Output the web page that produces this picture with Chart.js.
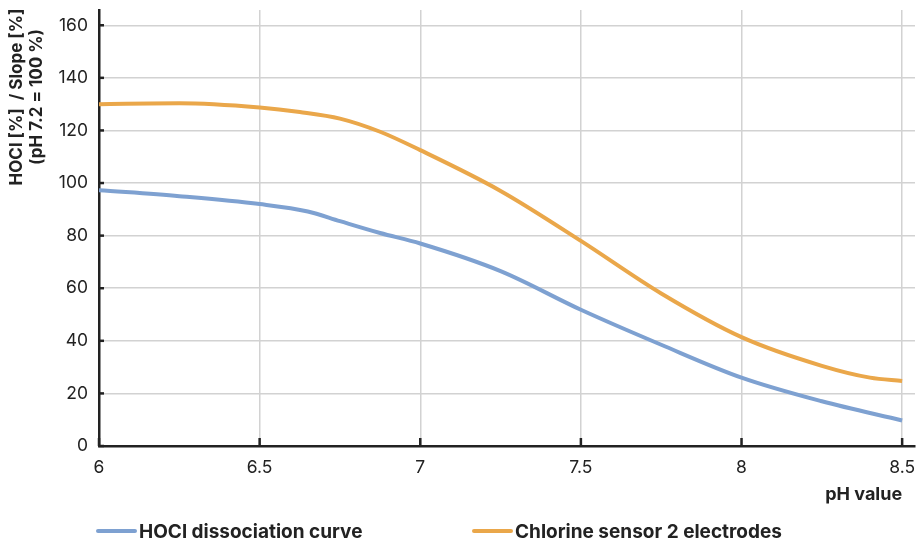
<!DOCTYPE html>
<html>
<head>
<meta charset="utf-8">
<script src="https://cdn.jsdelivr.net/npm/chart.js@4.4.1/dist/chart.umd.min.js"></script>
<style>
html,body{margin:0;padding:0;background:#fff;}
#wrap{width:917px;height:547px;position:relative;}
</style>
</head>
<body>
<div id="wrap"><canvas id="c" width="917" height="547"></canvas></div>
<script>
// ---- data ----
const phHocl   = [6, 6.25, 6.5, 6.65, 6.75, 6.875, 7, 7.25, 7.5, 7.75, 8, 8.25, 8.5];
const hoclVals = [97.3, 95, 92, 89.2, 85.5, 81, 77, 66.5, 51.8, 38.5, 26, 17, 9.7];
const phSensor   = [6, 6.25, 6.5, 6.625, 6.75, 6.875, 7, 7.25, 7.5, 7.75, 8, 8.25, 8.4, 8.5];
const sensorVals = [130, 130.3, 128.7, 127, 124.5, 119.5, 112.5, 97, 78, 58, 41.4, 30.5, 26, 24.7];
const xTicks = [6, 6.5, 7, 7.5, 8, 8.5];
const yTicks = [0, 20, 40, 60, 80, 100, 120, 140, 160];
const seriesLabels = ['HOCl dissociation curve', 'Chlorine sensor 2 electrodes'];
const yTitle = ['HOCl [%]  / Slope [%]', '(pH 7.2 = 100 %)'];
const xTitle = 'pH value';

const BLUE = '#7EA1D1', ORANGE = '#EAA74A', DARK = '#222222', GRID = '#d2d2d2';
const FONT = 'Inter, "Liberation Sans", Arial, sans-serif';

const pts = (xs, ys) => xs.map((x, i) => ({x, y: ys[i]}));

const extras = {
  id: 'extras',
  afterDraw(chart) {
    const ctx = chart.ctx, xs = chart.scales.x, ys = chart.scales.y, ca = chart.chartArea;
    ctx.save();
    // inner tick marks
    ctx.strokeStyle = DARK; ctx.lineWidth = 2.5;
    xTicks.forEach(v => { const px = xs.getPixelForValue(v); ctx.beginPath(); ctx.moveTo(px, ca.bottom); ctx.lineTo(px, ca.bottom - 8); ctx.stroke(); });
    yTicks.forEach(v => { const py = ys.getPixelForValue(v); ctx.beginPath(); ctx.moveTo(ca.left, py); ctx.lineTo(ca.left + 5, py); ctx.stroke(); });
    // y title
    ctx.fillStyle = DARK;
    ctx.font = 'bold 17px ' + FONT;
    ctx.textAlign = 'center'; ctx.textBaseline = 'middle';
    ctx.save(); ctx.translate(17, 97); ctx.rotate(-Math.PI / 2); ctx.fillText(yTitle[0], 0, 0); ctx.restore();
    ctx.save(); ctx.translate(37, 97); ctx.rotate(-Math.PI / 2); ctx.fillText(yTitle[1], 0, 0); ctx.restore();
    // x title
    ctx.font = 'bold 18px ' + FONT;
    ctx.textAlign = 'right';
    ctx.fillText(xTitle, xs.getPixelForValue(8.5), 495);
    // legend
    const lx = [96, 472], cols = [BLUE, ORANGE];
    ctx.font = 'bold 19px ' + FONT;
    ctx.lineCap = 'round'; ctx.lineWidth = 4;
    for (let i = 0; i < 2; i++) {
      ctx.strokeStyle = cols[i];
      ctx.beginPath(); ctx.moveTo(lx[i] + 2, 531); ctx.lineTo(lx[i] + 39, 531); ctx.stroke();
      ctx.textAlign = 'left';
      ctx.fillText(seriesLabels[i], lx[i] + 43, 532);
    }
    ctx.restore();
  }
};

new Chart(document.getElementById('c'), {
  type: 'line',
  data: {
    datasets: [
      {label: seriesLabels[0], data: pts(phHocl, hoclVals), borderColor: BLUE, borderWidth: 4, pointRadius: 0, cubicInterpolationMode: 'monotone', fill: false},
      {label: seriesLabels[1], data: pts(phSensor, sensorVals), borderColor: ORANGE, borderWidth: 4, pointRadius: 0, cubicInterpolationMode: 'monotone', fill: false}
    ]
  },
  options: {
    responsive: false,
    animation: false,
    events: [],
    layout: {padding: {left: 0, right: 2, top: 10, bottom: 0}},
    plugins: {legend: {display: false}, tooltip: {enabled: false}, title: {display: false}},
    scales: {
      x: {
        type: 'linear', min: 6, max: 8.54,
        afterBuildTicks: s => { s.ticks = xTicks.map(v => ({value: v})); },
        afterFit: s => { s.height = 101; s.paddingLeft = 0; s.paddingRight = 0; },
        grid: {color: GRID, lineWidth: 1.5, drawTicks: false},
        border: {color: DARK, width: 2.5},
        ticks: {padding: 11, color: DARK, font: {family: FONT, size: 17.5}, callback: v => String(v)}
      },
      y: {
        type: 'linear', min: 0, max: 165.8,
        afterBuildTicks: s => { s.ticks = yTicks.map(v => ({value: v})); },
        afterFit: s => { s.width = 99; s.paddingTop = 0; s.paddingBottom = 0; },
        grid: {color: GRID, lineWidth: 1.5, drawTicks: false},
        border: {color: DARK, width: 2.5},
        ticks: {padding: 11, color: DARK, font: {family: FONT, size: 17.5}, callback: v => String(v)}
      }
    }
  },
  plugins: [extras]
});
</script>
</body>
</html>
